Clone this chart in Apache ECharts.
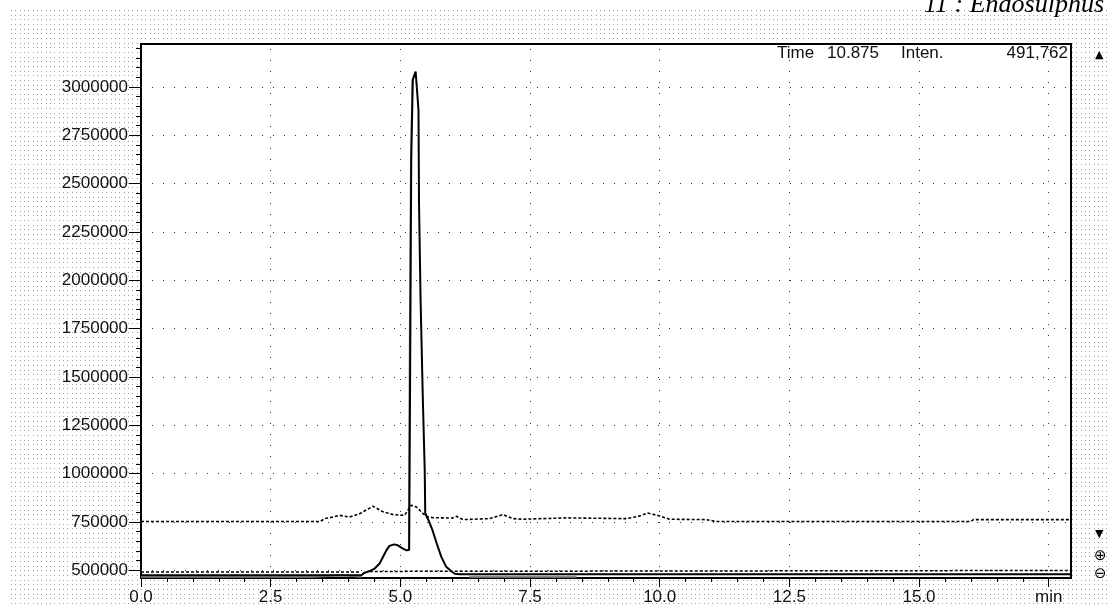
<!DOCTYPE html>
<html>
<head>
<meta charset="utf-8">
<script src="https://cdn.jsdelivr.net/npm/echarts@6/dist/echarts.min.js"></script>
<style>
  html, body { margin: 0; padding: 0; background: #fff; }
  #bg { position: absolute; left: 0; top: 0; }
  #chart { position: absolute; left: 0; top: 0; width: 1107px; height: 607px; }
</style>
</head>
<body>
<canvas id="bg" width="1107" height="607"></canvas>
<div id="chart"></div>
<script>
// tick positions
const xMajor = [0, 2.5, 5, 7.5, 10, 12.5, 15, 17.5]
const xMinor = [0.5, 1, 1.5, 2, 3, 3.5, 4, 4.5, 5.5, 6, 6.5, 7, 8, 8.5, 9, 9.5, 10.5, 11, 11.5, 12,
  13, 13.5, 14, 14.5, 15.5, 16, 16.5, 17]
const yMajor = [500000, 750000, 1000000, 1250000, 1500000, 1750000, 2000000, 2250000, 2500000, 2750000, 3000000]
const yMinor = [550000, 600000, 650000, 700000, 800000, 850000, 900000, 950000, 1050000, 1100000, 1150000, 1200000,
  1300000, 1350000, 1400000, 1450000, 1550000, 1600000, 1650000, 1700000, 1800000, 1850000, 1900000, 1950000,
  2050000, 2100000, 2150000, 2200000, 2300000, 2350000, 2400000, 2450000, 2550000, 2600000, 2650000, 2700000,
  2800000, 2850000, 2900000, 2950000, 3050000, 3100000, 3150000, 3200000]

// main chromatogram (black)
const mainTrace = [
  [0, 474000], [4.25, 474000], [4.30, 486000], [4.41, 496000], [4.505, 509000], [4.60, 535000],
  [4.665, 569000], [4.73, 603000], [4.79, 626000], [4.88, 634000], [4.95, 629000], [5.05, 612000],
  [5.12, 603000], [5.17, 605000], [5.19, 1577000], [5.21, 2621000], [5.24, 3036000], [5.295, 3080000],
  [5.35, 2880000], [5.36, 2400000], [5.39, 1900000], [5.435, 1370000], [5.47, 1017000], [5.48, 795000],
  [5.54, 760000], [5.62, 707000], [5.70, 640000], [5.79, 569000], [5.88, 520000], [5.98, 495000],
  [6.05, 482000], [6.14, 480000], [17.93, 480000]
]
// grey trace, seen only in pieces
const greyBaseA = [[0, 466000], [3.29, 466000], [3.29, 474000], [3.88, 474000], [3.88, 466000], [4.25, 466000]]
const greyPeak = [[5.10, 603000], [5.16, 603000], [5.175, 1577000], [5.20, 2621000], [5.23, 3036000], [5.28, 3075000]]
const greyBaseB = [[6.33, 466000], [8.4, 466000]]
// dashed upper trace
const dashTrace = [
  [0, 752000], [3.45, 752000], [3.55, 768000], [3.64, 772000], [3.83, 784000], [4.02, 775000], [4.22, 793000],
  [4.47, 831000], [4.67, 802000], [4.86, 788000], [5.08, 784000], [5.21, 836000], [5.31, 827000],
  [5.45, 790000], [5.53, 776000], [5.63, 772000], [6.0, 770000], [6.08, 779000], [6.21, 762000],
  [6.72, 767000], [6.98, 788000], [7.17, 767000], [7.36, 764000], [8.2, 771000], [9.36, 767000],
  [9.6, 780000], [9.77, 796000], [10.0, 781000], [10.19, 764000], [10.9, 762000], [11.09, 752000],
  [16.0, 752000], [16.05, 762000], [17.93, 762000]
]
// dashed baseline
const baseDashA = [[0, 491000], [4.22, 491000]]
const baseDashB = [[4.41, 494000], [17.93, 499000]]

// dotted backdrop outside the plot
const bg = document.getElementById("bg").getContext("2d")
bg.fillStyle = "#a0a0a0"
for (let y = 10; y < 607; y += 4.67) {
  for (let x = 11; x < 1107; x += 4.33) {
    bg.fillRect(Math.round(x), Math.round(y), 1, 1)
  }
}

const font = "Liberation Sans"
const chart = echarts.init(document.getElementById("chart"))

const line = (data, color, width, type, z) => ({
  type: "line",
  data: data,
  showSymbol: false,
  silent: true,
  animation: false,
  z: z,
  lineStyle: { color: color, width: width, type: type }
})

const greyA = line(greyBaseA, "#8c8c8c", 2, "solid", 2)
greyA.markLine = {
  silent: true,
  symbol: "none",
  animation: false,
  label: { show: false },
  lineStyle: { color: "#333", width: 1, type: [1, 10] },
  data: yMajor.map(v => ({ yAxis: v })).concat(xMajor.slice(1).map(v => ({ xAxis: v })))
}

chart.setOption({
  backgroundColor: "transparent",
  animation: false,
  grid: {
    left: 141, right: 36, top: 44, bottom: 29,
    show: true, backgroundColor: "#fff", borderColor: "#000", borderWidth: 2
  },
  xAxis: [
    {
      type: "value", min: 0, max: 17.93,
      axisLine: { show: false },
      splitLine: { show: false },
      axisTick: { customValues: xMajor, length: 9, lineStyle: { color: "#000" } },
      axisLabel: {
        customValues: xMajor, margin: 11, fontSize: 17, fontFamily: font, color: "#111",
        formatter: v => (v === 17.5 ? "min" : v.toFixed(1))
      }
    },
    {
      type: "value", min: 0, max: 17.93, position: "bottom",
      axisLine: { show: false },
      splitLine: { show: false },
      axisTick: { customValues: xMinor, length: 4, lineStyle: { color: "#000" } },
      axisLabel: { show: false }
    }
  ],
  yAxis: [
    {
      type: "value", min: 460000, max: 3222000,
      axisLine: { show: false },
      splitLine: { show: false },
      axisTick: { customValues: yMajor, length: 12, lineStyle: { color: "#000" } },
      axisLabel: {
        customValues: yMajor, margin: 13, fontSize: 17, fontFamily: font, color: "#111",
        formatter: v => String(v)
      }
    },
    {
      type: "value", min: 460000, max: 3222000, position: "left",
      axisLine: { show: false },
      splitLine: { show: false },
      axisTick: { customValues: yMinor, length: 5, lineStyle: { color: "#000" } },
      axisLabel: { show: false }
    }
  ],
  series: [
    greyA,
    line(greyPeak, "#8c8c8c", 1.5, "solid", 2),
    line(greyBaseB, "#8c8c8c", 2, "solid", 2),
    line(dashTrace, "#000", 1.6, [3, 2], 3),
    line(baseDashA, "#000", 1.5, [3, 2], 3),
    line(baseDashB, "#000", 1.5, [3, 2], 3),
    line(mainTrace, "#000", 2, "solid", 4)
  ],
  graphic: [
    { type: "text", right: 3, top: -8, style: { text: "11 : Endosulphus", font: "italic 26px 'Liberation Serif'", fill: "#000" } },
    { type: "text", left: 777, top: 45, style: { text: "Time", font: "17px " + font, fill: "#111" } },
    { type: "text", left: 827, top: 45, style: { text: "10.875", font: "17px " + font, fill: "#111" } },
    { type: "text", left: 901, top: 45, style: { text: "Inten.", font: "17px " + font, fill: "#111" } },
    { type: "text", right: 39, top: 45, style: { text: "491,762", font: "17px " + font, fill: "#111" } },
    { type: "text", left: 1095, top: 50, style: { text: "▲", font: "11px 'DejaVu Sans'", fill: "#000" } },
    { type: "text", left: 1095, top: 529, style: { text: "▼", font: "11px 'DejaVu Sans'", fill: "#000" } },
    { type: "text", left: 1094, top: 549, style: { text: "⊕", font: "15px 'DejaVu Sans'", fill: "#000" } },
    { type: "text", left: 1094, top: 567, style: { text: "⊖", font: "15px 'DejaVu Sans'", fill: "#000" } }
  ]
})
</script>
</body>
</html>
